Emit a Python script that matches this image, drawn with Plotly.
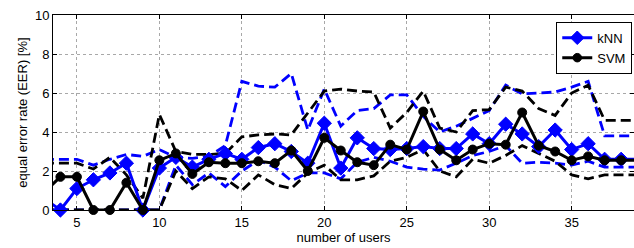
import plotly.graph_objects as go

users = list(range(3, 40))

knn_mean = [0.6, 0.0, 1.1, 1.55, 1.9, 2.4, 0.0, 2.15, 2.7, 2.2, 2.6, 2.9, 2.6, 3.2, 3.4, 3.0,
            2.4, 4.45, 2.15, 3.7, 3.15, 3.1, 3.15, 3.25, 3.15, 3.15, 3.9, 3.4, 4.4, 3.9,
            3.25, 4.1, 3.1, 3.4, 2.6, 2.6, 2.6]
svm_mean = [0.9, 1.7, 1.7, 0.0, 0.0, 1.4, 0.0, 2.55, 2.9, 1.85, 2.45, 2.4, 2.4, 2.5, 2.4, 3.05,
            2.0, 3.7, 3.05, 2.45, 2.3, 3.35, 3.1, 5.05, 3.1, 2.55, 3.1, 3.4, 3.35, 5.0,
            3.3, 3.0, 2.55, 2.75, 2.55, 2.55, 2.55]
knn_upper = [2.6, 2.6, 2.6, 2.3, 2.6, 2.85, 2.75, 3.1, 2.7, 2.65, 2.75, 3.3, 6.6, 6.35, 6.3, 7.0,
             4.1, 6.2, 4.3, 5.1, 5.2, 5.9, 5.9, 4.8, 4.0, 4.3, 4.7, 5.1, 6.4, 5.95,
             6.0, 6.05, 6.3, 6.6, 3.8, 3.8, 3.8]
knn_lower = [0, 0, 0, 0, 0, 0, 0, 0, 2.3, 1.3, 1.9, 1.2, 2.0, 2.55, 2.2, 1.5,
             1.9, 1.9, 1.6, 2.45, 2.7, 2.5, 2.2, 2.1, 2.05, 2.4, 2.8, 3.0, 3.3, 2.4,
             2.45, 2.4, 2.3, 2.5, 2.2, 2.2, 2.2]
svm_upper = [2.4, 2.4, 2.4, 2.1, 2.7, 1.8, 0.6, 4.9, 3.0, 2.85, 2.85, 2.9, 3.75, 3.85, 3.9, 3.85,
             5.0, 6.1, 6.2, 6.1, 6.05, 4.2, 5.0, 6.1, 4.2, 4.0, 5.1, 5.15, 6.3, 6.1,
             5.2, 4.85, 6.0, 6.4, 4.6, 4.6, 4.6]
svm_lower = [0, 0, 0, 0, 0, 0, 0, 0, 2.0, 1.1, 1.7, 1.6, 1.0, 1.8, 1.3, 1.1,
             1.9, 2.3, 1.55, 1.55, 1.75, 2.5, 2.7, 3.1, 2.0, 1.7, 2.6, 2.4, 2.8, 3.3,
             2.9, 2.5, 1.8, 1.6, 1.8, 1.8, 1.8]

x_ticks = [5, 10, 15, 20, 25, 30, 35]
y_ticks = [0, 2, 4, 6, 8, 10]

BLUE = "#0000ff"
BLACK = "#000000"
FONT = "Liberation Sans, Arial, sans-serif"
DASH = "10px,5px"

XMIN, XMAX = 3.55, 38.78

fig = go.Figure()

for ys, col in [(knn_upper, BLUE), (knn_lower, BLUE), (svm_upper, BLACK), (svm_lower, BLACK)]:
    fig.add_trace(go.Scatter(x=users, y=ys, mode="lines", showlegend=False,
                             line=dict(color=col, width=2.8, dash=DASH), hoverinfo="skip"))

def sizes(base):
    return [base if XMIN <= u <= XMAX else 0 for u in users]

fig.add_trace(go.Scatter(x=users, y=knn_mean, mode="lines+markers", name="kNN",
                         line=dict(color=BLUE, width=3), opacity=1,
                         marker=dict(symbol="diamond", size=sizes(11), color=BLUE, opacity=1,
                                     line=dict(width=1, color=BLUE)),
                         cliponaxis=False))
fig.add_trace(go.Scatter(x=users, y=svm_mean, mode="lines+markers", name="SVM",
                         line=dict(color=BLACK, width=3), opacity=1,
                         marker=dict(symbol="circle", size=sizes(9), color=BLACK, opacity=1,
                                     line=dict(width=1, color=BLACK)),
                         cliponaxis=False))

axis_common = dict(showline=True, linecolor="black", linewidth=1, mirror="ticks",
                   ticks="inside", ticklen=4, tickcolor="black",
                   showgrid=True, gridcolor="#a8a8a8", griddash="dot", gridwidth=1,
                   zeroline=False, automargin=False,
                   tickfont=dict(family=FONT, size=13, color="black"))

fig.update_layout(
    width=634, height=248, autosize=False,
    margin=dict(l=53, r=0, t=15, b=38),
    paper_bgcolor="white", plot_bgcolor="white",
    font=dict(family=FONT, size=13, color="black"),
    xaxis=dict(range=[XMIN, XMAX], tickvals=x_ticks,
               title=dict(text="number of users", standoff=2, font=dict(family=FONT, size=13)),
               **axis_common),
    yaxis=dict(range=[0, 10], tickvals=y_ticks,
               title=dict(text="equal error rate (EER) [%]", standoff=4, font=dict(family=FONT, size=13)),
               **axis_common),
    legend=dict(x=0.997, y=0.965, xanchor="right", yanchor="top",
                bordercolor="black", borderwidth=1, bgcolor="white",
                font=dict(family=FONT, size=13), tracegroupgap=0, itemwidth=30),
    showlegend=True,
    hovermode=False,
)

fig.write_html("out.html", config={"displayModeBar": False},
               post_script="document.body.style.margin='0';")
